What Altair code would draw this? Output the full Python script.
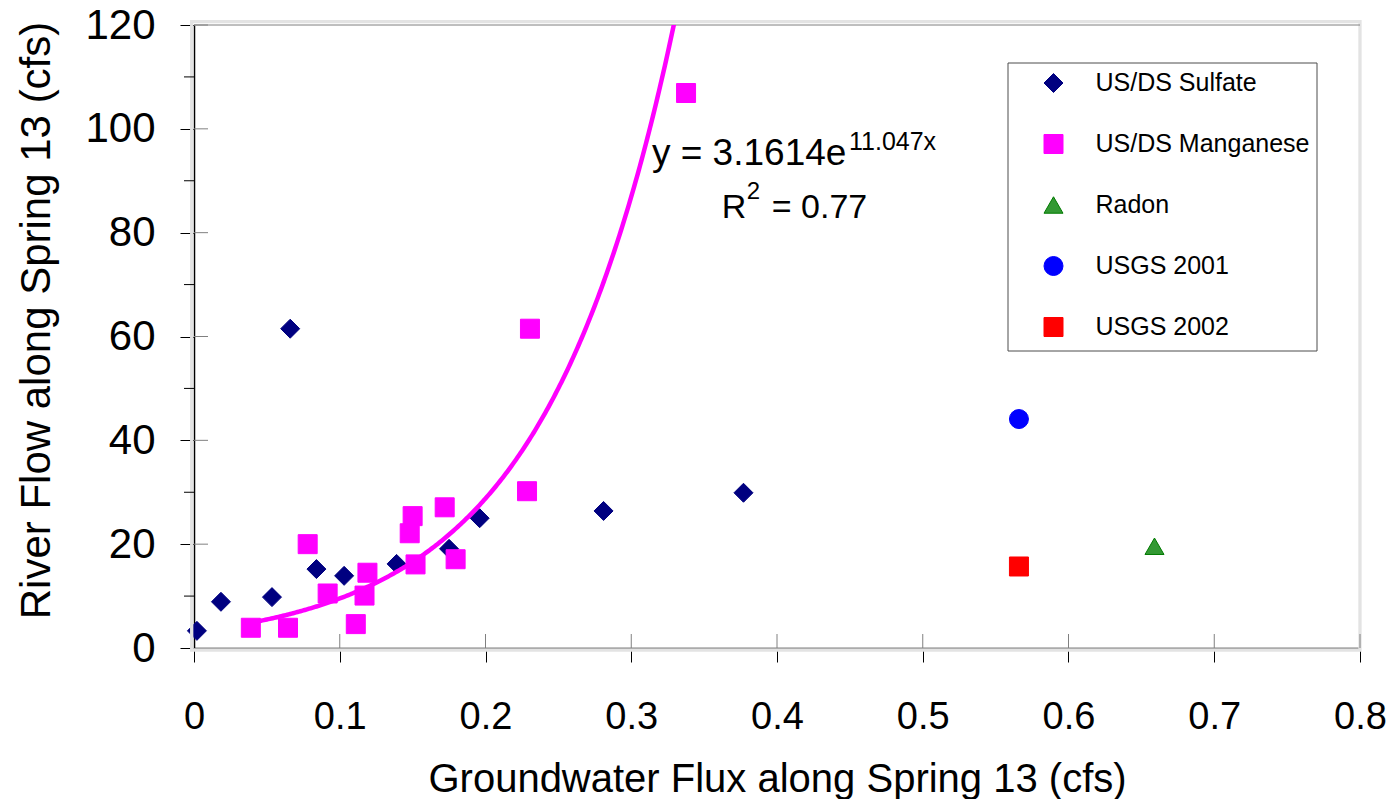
import altair as alt
import pandas as pd

W, H = 1166, 623
FONT = "Liberation Sans"

# ---- data ----
series_order = ["US/DS Sulfate", "US/DS Manganese", "Radon", "USGS 2001", "USGS 2002"]

sulfate_x = [0.002, 0.0185, 0.0535, 0.066, 0.084, 0.103, 0.139, 0.175, 0.196, 0.281, 0.377]
sulfate_y = [3.3, 8.9, 9.8, 61.5, 15.2, 13.9, 16.2, 19.1, 25.0, 26.4, 29.9]

manganese_x = [0.039, 0.0645, 0.078, 0.0917, 0.111, 0.117, 0.119, 0.148, 0.150, 0.152,
               0.172, 0.1795, 0.2285, 0.2305, 0.3376]
manganese_y = [3.9, 3.9, 20.0, 10.5, 4.6, 10.1, 14.5, 22.1, 25.4, 16.1,
               27.1, 17.1, 30.2, 61.5, 106.9]

radon_x = [0.659]
radon_y = [19.6]
usgs2001_x = [0.566]
usgs2001_y = [44.1]
usgs2002_x = [0.566]
usgs2002_y = [15.7]

# exponential trendline shown on the chart: y = 3.1614 e^(11.047 x)
trend_a = 3.1614
trend_b = 11.047
trend_start, trend_stop = 0.039, 0.336

x_ticks = [0, 0.1, 0.2, 0.3, 0.4, 0.5, 0.6, 0.7, 0.8]
y_ticks = [0, 20, 40, 60, 80, 100, 120]
y_minor = [10, 30, 50, 70, 90, 110]

ann_text = ["y = 3.1614e", "11.047x", "R", "2", "= 0.77"]
ann_x = [0.3142, 0.4494, 0.3621, 0.3792, 0.3964]
ann_y = [93.1, 96.0, 82.8, 86.5, 82.8]
ann_size = [37, 25, 34, 24, 34]

fills = ["#000080", "#FF00FF", "#339933", "#0000FF", "#FF0000"]
strokes = ["#000080", "#FF00FF", "#007A00", "#0000FF", "#FF0000"]
shapes = ["diamond", "square", "triangle-up", "circle", "square"]
sizes = [361, 361, 576, 484, 484]

# ---- tables ----
rows = []
for name, xs, ys in [
    (series_order[0], sulfate_x, sulfate_y),
    (series_order[1], manganese_x, manganese_y),
    (series_order[2], radon_x, radon_y),
    (series_order[3], usgs2001_x, usgs2001_y),
    (series_order[4], usgs2002_x, usgs2002_y),
]:
    for xv, yv in zip(xs, ys):
        rows.append({"series": name, "x": xv, "y": yv})
pts = pd.DataFrame(rows)
ann = pd.DataFrame({"t": ann_text, "x": ann_x, "y": ann_y, "s": ann_size})

xscale = alt.Scale(domain=[0, 0.8], nice=False, zero=False)
yscale = alt.Scale(domain=[0, 120], nice=False, zero=False)

X_TITLE = "Groundwater Flux along Spring 13 (cfs)"
Y_TITLE = "River Flow along Spring 13 (cfs)"

x_axis = alt.Axis(
    values=x_ticks, format="~g", grid=False, labelFlush=False, labelOverlap=False,
    labelFont=FONT, labelFontSize=38, labelColor="black", labelPadding=36,
    tickSize=14, tickColor="black", tickWidth=1,
    domainColor="black", domainWidth=1.5,
    title=X_TITLE, titleFont=FONT, titleFontSize=40,
    titleFontWeight="normal", titleColor="black", titleY=143, titleBaseline="alphabetic",
)
y_axis = alt.Axis(
    values=y_ticks, grid=False, labelFlush=False, labelOverlap=False,
    labelFont=FONT, labelFontSize=42, labelColor="black", labelPadding=25,
    tickSize=14, tickColor="black", tickWidth=1,
    domainColor="black", domainWidth=1.5,
    title=Y_TITLE, titleFont=FONT, titleFontSize=42,
    titleFontWeight="normal", titleColor="black", titleX=-145, titleY=295,
    titleBaseline="alphabetic", titleAngle=270,
)


def X(field):
    return alt.X(field, scale=xscale, axis=x_axis, title=X_TITLE)


def Y(field):
    return alt.Y(field, scale=yscale, axis=y_axis, title=Y_TITLE)


legend = alt.Legend(
    title=None, orient="none", legendX=847, legendY=45.5,
    symbolSize=289, symbolStrokeWidth=1, symbolOffset=0,
    labelFont=FONT, labelFontSize=25, labelColor="black", labelOffset=29.5,
    labelLimit=500, rowPadding=35, padding=0,
)

one = alt.Data(values=[{"k": 1}])

# light outer frame band + dark top line
frame = alt.Chart(one).mark_rect(fillOpacity=0, stroke="#e3e3e3", strokeWidth=3.3).encode(
    x=alt.value(-2.3), x2=alt.value(W), y=alt.value(-3.3), y2=alt.value(H + 2)
)
top_line = alt.Chart(one).mark_rule(color="#7f7f7f", strokeWidth=1).encode(
    x=alt.value(0), x2=alt.value(W), y=alt.value(0)
)
legend_box = alt.Chart(one).mark_rect(fill="white", stroke="#4d4d4d", strokeWidth=1).encode(
    x=alt.value(814), x2=alt.value(1123), y=alt.value(38), y2=alt.value(326)
)

points = alt.Chart(pts).mark_point(filled=True, opacity=1, strokeWidth=1).encode(
    x=X("x:Q"),
    y=Y("y:Q"),
    color=alt.Color("series:N", scale=alt.Scale(domain=series_order, range=fills), legend=legend),
    shape=alt.Shape("series:N", scale=alt.Scale(domain=series_order, range=shapes), legend=legend),
    stroke=alt.Stroke("series:N", scale=alt.Scale(domain=series_order, range=strokes), legend=legend),
    size=alt.Size("series:N", scale=alt.Scale(domain=series_order, range=sizes), legend=None),
)

y_inner = alt.Chart(pd.DataFrame({"y": y_ticks[1:]})).mark_rule(color="#808080", strokeWidth=1).encode(
    y=Y("y:Q"), x=alt.value(0), x2=alt.value(14)
)
x_inner = alt.Chart(pd.DataFrame({"x": x_ticks[1:]})).mark_rule(color="#808080", strokeWidth=1).encode(
    x=X("x:Q"), y=alt.value(H), y2=alt.value(H - 14)
)
y_minor_ticks = alt.Chart(pd.DataFrame({"y": y_minor})).mark_rule(color="black", strokeWidth=1).encode(
    y=Y("y:Q"), x=alt.value(-10), x2=alt.value(0)
)

trend = (
    alt.Chart(alt.sequence(trend_start, trend_stop, 0.001, as_="x"))
    .transform_calculate(y=f"{trend_a} * exp({trend_b} * datum.x)")
    .mark_line(color="#FF00FF", strokeWidth=4.5, clip=True)
    .encode(x=X("x:Q"), y=Y("y:Q"))
)

labels = alt.Chart(ann).mark_text(align="left", baseline="alphabetic", font=FONT, color="black").encode(
    x=X("x:Q"),
    y=Y("y:Q"),
    text="t:N",
    size=alt.Size("s:Q", scale=None, legend=None),
)

chart = (
    alt.layer(points, frame, top_line, y_inner, x_inner, y_minor_ticks, legend_box, trend, labels)
    .properties(
        width=W, height=H,
        autosize=alt.AutoSizeParams(type="none"),
        padding={"left": 186, "top": 17, "right": 26, "bottom": 151},
        background="white",
    )
    .configure_view(strokeWidth=0)
)

chart.save("out.html", embed_options={"renderer": "svg", "actions": False})
